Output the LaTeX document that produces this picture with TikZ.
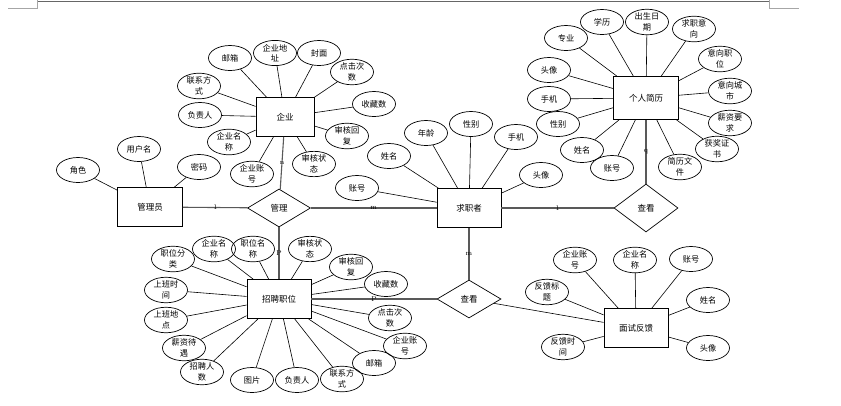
\documentclass[tikz,border=0pt]{standalone}
\usepackage{fontspec}
\newfontfamily\cjk{Noto Sans CJK SC}
\usetikzlibrary{shapes.geometric}
\begin{document}
\begin{tikzpicture}[x=1pt,y=-1pt,
 attr/.style={ellipse,draw,line width=0.7pt,minimum width=43pt,minimum height=25pt,inner sep=0pt,align=center,font=\cjk\fontsize{8.2}{10.5}\selectfont},
 ent/.style={rectangle,draw,line width=0.9pt,minimum width=64pt,minimum height=39pt,font=\cjk\fontsize{8.5}{10}\selectfont},
 rel/.style={diamond,draw,line width=0.7pt,minimum width=64pt,minimum height=38pt,inner sep=0pt,font=\cjk\fontsize{8.5}{10}\selectfont},
 al/.style={line width=0.6pt},
 rl/.style={line width=1.1pt,draw=black!65},
 card/.style={font=\fontsize{7}{7}\selectfont,inner sep=0pt},
 page/.style={line width=0.6pt,draw=black!35}
]
\useasboundingbox (0,0) rectangle (841,405);
% page marks
\draw[line width=0.8pt,draw=black!60] (37,1) -- (769,1);
\draw[page] (8,8) -- (37,8) -- (37,0);
\draw[page] (769,0) -- (769,8) -- (799,8);

% entities
\node[ent,minimum width=58pt] (qy) at (285,117) {企业};
\node[ent,minimum width=65pt] (gly) at (150,207) {管理员};
\node[ent] (qzz) at (469,208) {求职者};
\node[ent,minimum width=65pt,minimum height=43pt] (jl) at (646,98) {个人简历};
\node[ent] (zp) at (279,299) {招聘职位};
\node[ent] (mf) at (636,328) {面试反馈};

% relationships
\node[rel,minimum width=63pt] (gl) at (279,208) {管理};
\node[rel,minimum height=48pt] (ck1) at (646,208) {查看};
\node[rel] (ck2) at (469,299) {查看};

% 企业 attributes
\node[attr] (q1) at (230,58) {邮箱};
\node[attr] (q2) at (275,53) {企业地\\址};
\node[attr] (q3) at (319,53) {封面};
\node[attr] (q4) at (352,72) {点击次\\数};
\node[attr] (q5) at (374,104) {收藏数};
\node[attr] (q6) at (347,136) {审核回\\复};
\node[attr] (q7) at (314,164) {审核状\\态};
\node[attr] (q8) at (252,174) {企业账\\号};
\node[attr] (q9) at (229,142) {企业名\\称};
\node[attr] (q10) at (200,115) {负责人};
\node[attr] (q11) at (199,86) {联系方\\式};
\foreach \a in {q1,q2,q3,q4,q5,q6,q7,q8,q9,q10,q11} \draw[al] (\a) -- (qy);

% 管理员 attributes
\node[attr] (g1) at (139,149) {用户名};
\node[attr] (g2) at (78,170) {角色};
\node[attr] (g3) at (199,167) {密码};
\foreach \a in {g1,g2,g3} \draw[al] (\a) -- (gly);

% 求职者 attributes
\node[attr] (s1) at (357,188) {账号};
\node[attr] (s2) at (389,156) {姓名};
\node[attr] (s3) at (426,133) {年龄};
\node[attr] (s4) at (471,124) {性别};
\node[attr] (s5) at (516,137) {手机};
\node[attr] (s6) at (541,175) {头像};
\foreach \a in {s1,s2,s3,s4,s5,s6} \draw[al] (\a) -- (qzz);

% 个人简历 attributes
\node[attr] (j1) at (566,38) {专业};
\node[attr] (j2) at (602,22) {学历};
\node[attr] (j3) at (647,22) {出生日\\期};
\node[attr] (j4) at (694,29) {求职意\\向};
\node[attr] (j5) at (720,59) {意向职\\位};
\node[attr] (j6) at (730,91) {意向城\\市};
\node[attr] (j7) at (730,123) {薪资要\\求};
\node[attr] (j8) at (717,149) {获奖证\\书};
\node[attr] (j9) at (680,167) {简历文\\件};
\node[attr] (j10) at (612,168) {账号};
\node[attr] (j11) at (582,150) {姓名};
\node[attr] (j12) at (558,124) {性别};
\node[attr] (j13) at (549,99) {手机};
\node[attr] (j14) at (549,70) {头像};
\foreach \a in {j1,j2,j3,j4,j5,j6,j7,j8,j9,j10,j11,j12,j13,j14} \draw[al] (\a) -- (jl);

% 招聘职位 attributes
\node[attr] (z1) at (173,259) {职位分\\类};
\node[attr] (z2) at (214,249) {企业名\\称};
\node[attr] (z3) at (253,249) {职位名\\称};
\node[attr] (z4) at (310,249) {审核状\\态};
\node[attr] (z5) at (351,267) {审核回\\复};
\node[attr] (z6) at (386,284) {收藏数};
\node[attr] (z7) at (390,318) {点击次\\数};
\node[attr] (z8) at (405,346) {企业账\\号};
\node[attr] (z9) at (374,363) {邮箱};
\node[attr] (z10) at (342,379) {联系方\\式};
\node[attr] (z11) at (297,380) {负责人};
\node[attr] (z12) at (252,380) {图片};
\node[attr] (z13) at (202,372) {招聘人\\数};
\node[attr] (z14) at (184,348) {薪资待\\遇};
\node[attr] (z15) at (166,320) {上班地\\点};
\node[attr] (z16) at (166,290) {上班时\\间};
\foreach \a in {z1,z2,z3,z4,z5,z6,z7,z8,z9,z10,z11,z12,z13,z14,z15,z16} \draw[al] (\a) -- (zp);

% 面试反馈 attributes
\node[attr] (f1) at (575,260) {企业账\\号};
\node[attr] (f2) at (635,260) {企业名\\称};
\node[attr] (f3) at (691,259) {账号};
\node[attr] (f4) at (708,300) {姓名};
\node[attr] (f5) at (708,348) {头像};
\node[attr] (f6) at (563,347) {反馈时\\间};
\node[attr] (f7) at (547,292) {反馈标\\题};
\foreach \a in {f1,f2,f3,f4,f5,f6,f7} \draw[al] (\a) -- (mf);

% relationship lines
\draw[rl] (gly) -- node[card] {1} (gl);
\draw[rl] (gl) -- node[card] {m} (qzz);
\draw[rl] (qy) -- node[card] {n} (gl);
\draw[rl] (gl) -- node[card] {P} (zp);
\draw[rl] (qzz) -- node[card] {1} (ck1);
\draw[rl] (jl) -- node[card] {q} (ck1);
\draw[rl] (qzz) -- node[card] {m} (ck2);
\draw[rl] (zp) -- node[card] {P} (ck2);
\draw[al] (ck2) -- (mf);
\end{tikzpicture}
\end{document}
